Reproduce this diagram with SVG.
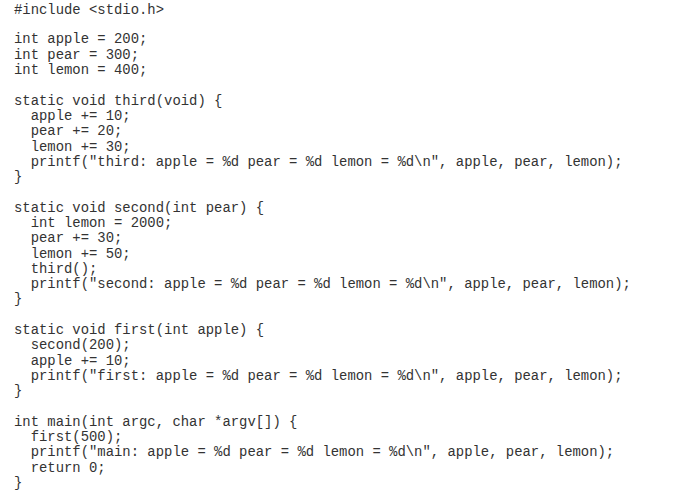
<svg xmlns="http://www.w3.org/2000/svg" width="689" height="494" viewBox="0 0 689 494">
<style>text{font-family:"Liberation Mono","Courier New",monospace;font-size:13.9px;fill:#333;white-space:pre}</style>
<rect width="689" height="494" fill="#fff"/>
<g id="code" xml:space="preserve">
<text x="14" y="14">#include &lt;stdio.h&gt;</text>
<text x="14" y="43">int apple = 200;</text>
<text x="14" y="59">int pear = 300;</text>
<text x="14" y="74">int lemon = 400;</text>
<text x="14" y="105">static void third(void) {</text>
<text x="14" y="120">  apple += 10;</text>
<text x="14" y="135">  pear += 20;</text>
<text x="14" y="151">  lemon += 30;</text>
<text x="14" y="166">  printf("third: apple = %d pear = %d lemon = %d\n", apple, pear, lemon);</text>
<text x="14" y="181">}</text>
<text x="14" y="212">static void second(int pear) {</text>
<text x="14" y="227">  int lemon = 2000;</text>
<text x="14" y="242">  pear += 30;</text>
<text x="14" y="258">  lemon += 50;</text>
<text x="14" y="273">  third();</text>
<text x="14" y="288">  printf("second: apple = %d pear = %d lemon = %d\n", apple, pear, lemon);</text>
<text x="14" y="303">}</text>
<text x="14" y="334">static void first(int apple) {</text>
<text x="14" y="349">  second(200);</text>
<text x="14" y="365">  apple += 10;</text>
<text x="14" y="380">  printf("first: apple = %d pear = %d lemon = %d\n", apple, pear, lemon);</text>
<text x="14" y="395">}</text>
<text x="14" y="426">int main(int argc, char *argv[]) {</text>
<text x="14" y="441">  first(500);</text>
<text x="14" y="456">  printf("main: apple = %d pear = %d lemon = %d\n", apple, pear, lemon);</text>
<text x="14" y="472">  return 0;</text>
<text x="14" y="487">}</text>
</g>
</svg>
